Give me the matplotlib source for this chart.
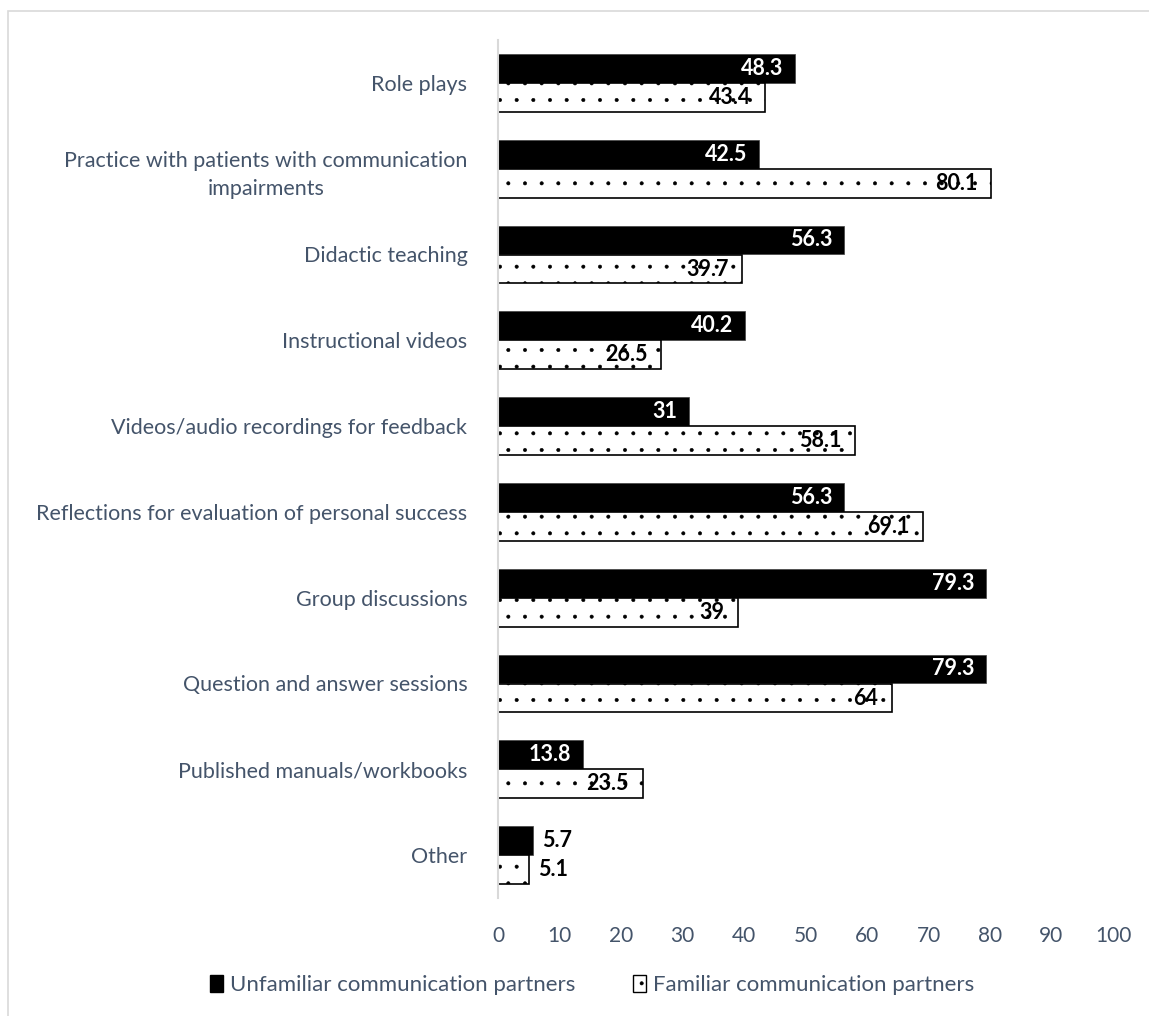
import matplotlib
matplotlib.use("Agg")
import matplotlib.pyplot as plt
from matplotlib.patches import Rectangle, Patch
import numpy as np

plt.rcParams['font.family'] = ['Lato', 'DejaVu Sans']
plt.rcParams['hatch.linewidth'] = 0.4

categories = ["Role plays",
              "Practice with patients with communication\nimpairments",
              "Didactic teaching",
              "Instructional videos",
              "Videos/audio recordings for feedback",
              "Reflections for evaluation of personal success",
              "Group discussions",
              "Question and answer sessions",
              "Published manuals/workbooks",
              "Other"]
unfamiliar = [48.3, 42.5, 56.3, 40.2, 31, 56.3, 79.3, 79.3, 13.8, 5.7]
familiar = [43.4, 80.1, 39.7, 26.5, 58.1, 69.1, 39, 64, 23.5, 5.1]
x_ticks = [0, 10, 20, 30, 40, 50, 60, 70, 80, 90, 100]

txt = '#44546A'
fig = plt.figure(figsize=(11.49, 10.16), dpi=100)
# chart area border
fig.add_artist(Rectangle((8/1149, -0.1), 1.2, 1 - 11/1016 + 0.1, transform=fig.transFigure,
                         fill=False, edgecolor='#D9D9D9', linewidth=1.2))
ax = fig.add_axes([498/1149, 1 - 898/1016, 615/1149, 858/1016])

y = np.arange(len(categories))
h = 0.337
off = 0.169
ax.barh(y - off, unfamiliar, height=h, color='black', edgecolor='#404040', linewidth=0.5,
        label='Unfamiliar communication partners')
ax.barh(y + off, familiar, height=h, color='white', edgecolor='black', linewidth=1.2,
        hatch='.', label='Familiar communication partners')

fs = 15.5
for i in range(len(categories)):
    v = unfamiliar[i]
    s = ('%g' % v)
    if v > 10:
        ax.text(v - 1.9, y[i] - off, s, ha='right', va='center', color='white',
                fontsize=fs, fontweight='bold')
    else:
        ax.text(v + 1.4, y[i] - off, s, ha='left', va='center', color='black',
                fontsize=fs, fontweight='bold')
    v = familiar[i]
    s = ('%g' % v)
    if v > 10:
        ax.text(v - 2.2, y[i] + off, s, ha='right', va='center', color='black',
                fontsize=fs, fontweight='bold')
    else:
        ax.text(v + 1.4, y[i] + off, s, ha='left', va='center', color='black',
                fontsize=fs, fontweight='bold')

ax.set_xlim(0, 100)
ax.set_ylim(9.5, -0.5)
ax.set_xticks(x_ticks)
ax.set_yticks(y)
ax.set_yticklabels(categories, fontsize=15.5, color=txt, multialignment='center',
                   linespacing=1.5)
ax.tick_params(axis='x', length=0, pad=20, labelsize=15, labelcolor=txt)
ax.tick_params(axis='y', length=0, pad=22)
for sp in ['top', 'right', 'bottom']:
    ax.spines[sp].set_visible(False)
ax.spines['left'].set_color('#D9D9D9')
ax.spines['left'].set_linewidth(1.5)

handles = [Patch(facecolor='black', edgecolor='black'),
           Patch(facecolor='white', edgecolor='black', hatch='.')]
fig.legend(handles, ['Unfamiliar communication partners', 'Familiar communication partners'],
           loc='center', bbox_to_anchor=(592/1149, 1 - 985/1016), ncol=2, frameon=False,
           fontsize=16, labelcolor=txt, handlelength=0.6, handleheight=0.8,
           handletextpad=0.3, columnspacing=2.6)

fig.savefig('out.png', dpi=100)
